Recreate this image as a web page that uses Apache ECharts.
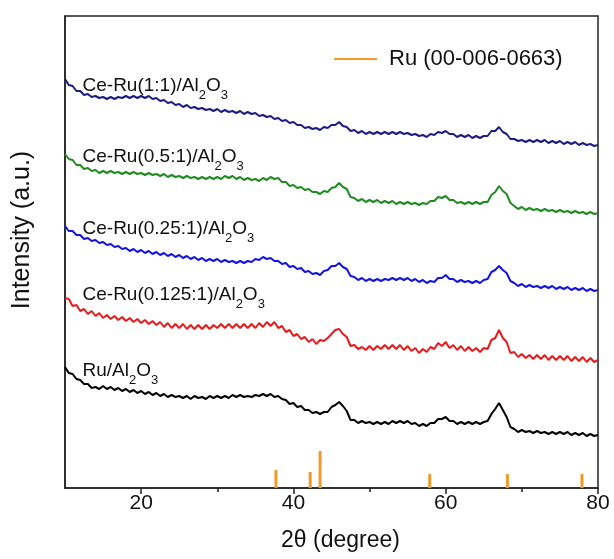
<!DOCTYPE html>
<html>
<head>
<meta charset="utf-8">
<title>XRD patterns</title>
<script src="https://cdn.jsdelivr.net/npm/echarts@6/dist/echarts.min.js"></script>
<style>
  html, body { margin: 0; padding: 0; background: #fff; }
  #chart { width: 614px; height: 559px; }
</style>
</head>
<body>
<div id="chart"></div>
<script>
// 2theta scan grid (degree), 0.5 step
const twoTheta = [
  10, 10.5, 11, 11.5, 12, 12.5, 13, 13.5, 14, 14.5,
  15, 15.5, 16, 16.5, 17, 17.5, 18, 18.5, 19, 19.5,
  20, 20.5, 21, 21.5, 22, 22.5, 23, 23.5, 24, 24.5,
  25, 25.5, 26, 26.5, 27, 27.5, 28, 28.5, 29, 29.5,
  30, 30.5, 31, 31.5, 32, 32.5, 33, 33.5, 34, 34.5,
  35, 35.5, 36, 36.5, 37, 37.5, 38, 38.5, 39, 39.5,
  40, 40.5, 41, 41.5, 42, 42.5, 43, 43.5, 44, 44.5,
  45, 45.5, 46, 46.5, 47, 47.5, 48, 48.5, 49, 49.5,
  50, 50.5, 51, 51.5, 52, 52.5, 53, 53.5, 54, 54.5,
  55, 55.5, 56, 56.5, 57, 57.5, 58, 58.5, 59, 59.5,
  60, 60.5, 61, 61.5, 62, 62.5, 63, 63.5, 64, 64.5,
  65, 65.5, 66, 66.5, 67, 67.5, 68, 68.5, 69, 69.5,
  70, 70.5, 71, 71.5, 72, 72.5, 73, 73.5, 74, 74.5,
  75, 75.5, 76, 76.5, 77, 77.5, 78, 78.5, 79, 79.5,
  80
]

// intensities (a.u., curves offset as in the figure)
const ruAl2O3 = [
  121, 115, 114, 109, 108, 104, 104, 100, 101, 99,
  102, 99, 101, 98, 100, 97, 99, 96, 98, 95,
  97, 94, 96, 93, 95, 92, 94, 91, 93, 91,
  92, 90, 92, 89, 92, 90, 91, 89, 92, 90,
  92, 90, 92, 90, 93, 91, 93, 91, 92, 91,
  93, 92, 94, 92, 94, 91, 92, 89, 88, 84,
  85, 81, 82, 78, 78, 75, 76, 74, 76, 76,
  81, 83, 86, 82, 77, 68, 68, 65, 67, 65,
  66, 64, 66, 64, 66, 64, 67, 65, 67, 65,
  67, 64, 65, 62, 64, 62, 65, 65, 69, 69,
  71, 67, 67, 64, 66, 64, 66, 64, 66, 64,
  66, 67, 74, 79, 85, 78, 71, 61, 59, 56,
  58, 56, 57, 55, 57, 55, 56, 54, 56, 54,
  56, 54, 56, 53, 55, 53, 55, 52, 54, 52,
  53
]
const ceRu0125 = [
  190, 189, 182, 183, 177, 179, 174, 177, 172, 175,
  170, 173, 169, 172, 168, 171, 167, 170, 166, 169,
  165, 168, 164, 167, 163, 166, 161, 165, 160, 164,
  160, 164, 159, 163, 159, 163, 159, 163, 159, 163,
  160, 164, 160, 164, 160, 164, 160, 164, 160, 164,
  160, 165, 161, 166, 162, 166, 160, 162, 156, 158,
  152, 154, 149, 151, 146, 149, 144, 148, 147, 150,
  154, 158, 159, 154, 151, 142, 143, 139, 141, 138,
  142, 138, 142, 139, 143, 139, 143, 139, 143, 138,
  142, 137, 140, 135, 139, 136, 141, 139, 145, 142,
  146, 140, 143, 138, 142, 137, 141, 137, 140, 136,
  140, 139, 148, 150, 158, 150, 146, 135, 136, 131,
  134, 130, 133, 129, 133, 129, 133, 128, 132, 128,
  132, 128, 132, 127, 131, 127, 131, 126, 130, 126,
  128
]
const ceRu025 = [
  262, 257, 257, 253, 253, 249, 250, 247, 248, 245,
  246, 243, 244, 241, 242, 239, 240, 237, 239, 236,
  238, 235, 237, 234, 236, 233, 235, 232, 234, 231,
  233, 230, 232, 229, 231, 228, 230, 227, 229, 227,
  229, 226, 228, 226, 227, 225, 227, 225, 227, 226,
  229, 228, 231, 229, 230, 227, 227, 224, 225, 221,
  222, 219, 220, 216, 217, 214, 215, 213, 217, 218,
  222, 222, 225, 221, 219, 212, 211, 208, 210, 207,
  209, 207, 209, 207, 209, 208, 210, 208, 210, 208,
  210, 207, 209, 206, 208, 205, 207, 206, 210, 210,
  213, 209, 209, 206, 208, 206, 207, 205, 207, 205,
  208, 209, 216, 218, 222, 218, 215, 207, 205, 202,
  204, 201, 203, 201, 202, 200, 202, 200, 202, 199,
  201, 199, 201, 198, 200, 198, 200, 197, 199, 197,
  198
]
const ceRu05 = [
  334, 329, 328, 323, 323, 319, 320, 317, 318, 315,
  317, 315, 317, 315, 316, 314, 316, 314, 316, 314,
  315, 313, 315, 313, 314, 312, 314, 311, 313, 311,
  312, 310, 312, 310, 311, 309, 311, 309, 311, 309,
  311, 309, 312, 310, 312, 309, 311, 308, 310, 308,
  309, 307, 310, 308, 311, 309, 310, 306, 306, 302,
  303, 300, 301, 298, 299, 296, 296, 294, 297, 296,
  300, 301, 305, 301, 299, 291, 290, 287, 289, 286,
  288, 286, 288, 285, 287, 285, 287, 284, 286, 284,
  286, 284, 285, 283, 285, 284, 287, 287, 291, 290,
  292, 288, 288, 285, 286, 284, 286, 284, 286, 284,
  286, 286, 293, 296, 302, 297, 294, 285, 282, 279,
  281, 278, 280, 278, 279, 277, 279, 277, 278, 276,
  278, 276, 277, 275, 277, 275, 276, 274, 276, 274,
  275
]
const ceRu1 = [
  409, 403, 402, 397, 397, 393, 394, 391, 392, 390,
  391, 389, 391, 389, 391, 390, 392, 390, 392, 390,
  392, 390, 392, 389, 390, 387, 388, 385, 386, 383,
  384, 381, 383, 380, 381, 379, 380, 378, 379, 377,
  379, 376, 378, 376, 377, 375, 377, 374, 376, 374,
  375, 372, 373, 371, 372, 369, 370, 367, 368, 365,
  366, 363, 363, 360, 361, 359, 360, 358, 361, 360,
  363, 363, 366, 362, 361, 357, 358, 355, 357, 354,
  356, 354, 356, 354, 356, 354, 356, 354, 356, 354,
  355, 353, 354, 352, 353, 351, 354, 353, 356, 355,
  357, 354, 354, 351, 353, 351, 353, 350, 352, 350,
  352, 352, 357, 357, 361, 356, 354, 349, 349, 347,
  348, 346, 348, 346, 348, 346, 348, 345, 347, 345,
  347, 344, 346, 344, 346, 343, 345, 343, 344, 342,
  343
]

// reference card Ru 00-006-0663
const ruCardPos = [37.7, 42.2, 43.5, 57.9, 68.1, 77.9]
const ruCardInt = [18, 16, 37, 14, 14, 14]

const majorTicks = [20, 40, 60, 80]
const minorTicks = [30, 50, 70]

const FONT = 'Liberation Sans, Arial, sans-serif'

function pairs(xs, ys) {
  return xs.map((x, i) => [x, ys[i]])
}

// sample name with sub-scripted digits
function sampleLabel(prefix, x, y) {
  return {
    symbol: 'circle',
    symbolSize: 0,
    data: [{ coord: [x, y] }],
    label: {
      show: true,
      position: 'right',
      distance: 0,
      color: '#111',
      fontFamily: FONT,
      formatter: '{n|' + prefix + 'Al}{s|2}{n|O}{s|3}',
      rich: {
        n: { fontSize: 19, lineHeight: 22, verticalAlign: 'top', fontFamily: FONT, color: '#111' },
        s: { fontSize: 13, lineHeight: 13, padding: [13, 0, 0, 0], verticalAlign: 'top', fontFamily: FONT, color: '#111' }
      }
    }
  }
}

const curves = [
  { name: 'Ru/Al2O3', data: ruAl2O3, color: '#000000', prefix: 'Ru/', labelY: 116 },
  { name: 'Ce-Ru(0.125:1)/Al2O3', data: ceRu0125, color: '#e51b1b', prefix: 'Ce-Ru(0.125:1)/', labelY: 192 },
  { name: 'Ce-Ru(0.25:1)/Al2O3', data: ceRu025, color: '#1414e0', prefix: 'Ce-Ru(0.25:1)/', labelY: 258 },
  { name: 'Ce-Ru(0.5:1)/Al2O3', data: ceRu05, color: '#1f8c1f', prefix: 'Ce-Ru(0.5:1)/', labelY: 330 },
  { name: 'Ce-Ru(1:1)/Al2O3', data: ceRu1, color: '#1c1c82', prefix: 'Ce-Ru(1:1)/', labelY: 401 }
]

const chart = echarts.init(document.getElementById('chart'))

const series = curves.map(c => ({
  name: c.name,
  type: 'line',
  data: pairs(twoTheta, c.data),
  showSymbol: false,
  symbol: 'none',
  lineStyle: { color: c.color, width: 2 },
  itemStyle: { color: c.color },
  markPoint: sampleLabel(c.prefix, 12.3, c.labelY),
  z: 3
}))

series.push({
  name: 'Ru (00-006-0663)',
  type: 'bar',
  data: pairs(ruCardPos, ruCardInt),
  barWidth: 3,
  itemStyle: { color: '#ef9a2c' },
  z: 2
})

chart.setOption({
  animation: false,
  backgroundColor: '#fff',
  grid: {
    left: 65,
    right: 16,
    top: 16,
    bottom: 71,
    show: true,
    borderColor: '#222',
    borderWidth: 1.5
  },
  legend: {
    data: ['Ru (00-006-0663)'],
    left: 329,
    top: 43,
    icon: 'rect',
    itemWidth: 43,
    itemHeight: 2,
    textStyle: { fontSize: 22, fontFamily: FONT, color: '#111', padding: [0, 0, 0, 7] }
  },
  xAxis: [{
    type: 'value',
    min: 10,
    max: 80,
    interval: 10,
    position: 'bottom',
    name: '2θ (degree)',
    nameLocation: 'middle',
    nameGap: 41,
    nameTextStyle: { fontSize: 23, fontFamily: FONT, color: '#111', padding: [0, 0, 0, 18] },
    axisLine: { show: true, lineStyle: { color: '#222', width: 1.5 } },
    axisTick: { show: true, customValues: majorTicks, length: 6, lineStyle: { color: '#222', width: 1.5 } },
    axisLabel: { customValues: majorTicks, fontSize: 21, fontFamily: FONT, color: '#111', margin: 5 },
    splitLine: { show: false }
  }, {
    type: 'value',
    min: 10,
    max: 80,
    interval: 10,
    position: 'bottom',
    axisLine: { show: false },
    axisTick: { show: true, customValues: minorTicks, length: 4, lineStyle: { color: '#222', width: 1.5 } },
    axisLabel: { show: false },
    splitLine: { show: false }
  }],
  yAxis: {
    type: 'value',
    min: 0,
    max: 472,
    name: 'Intensity (a.u.)',
    nameLocation: 'middle',
    nameGap: 30,
    nameRotate: 90,
    nameTextStyle: { fontSize: 25, fontFamily: FONT, color: '#111', padding: [0, 0, 0, 44] },
    axisLine: { show: true, lineStyle: { color: '#222', width: 1.5 } },
    axisTick: { show: false },
    axisLabel: { show: false },
    splitLine: { show: false }
  },
  series: series
})
</script>
</body>
</html>
